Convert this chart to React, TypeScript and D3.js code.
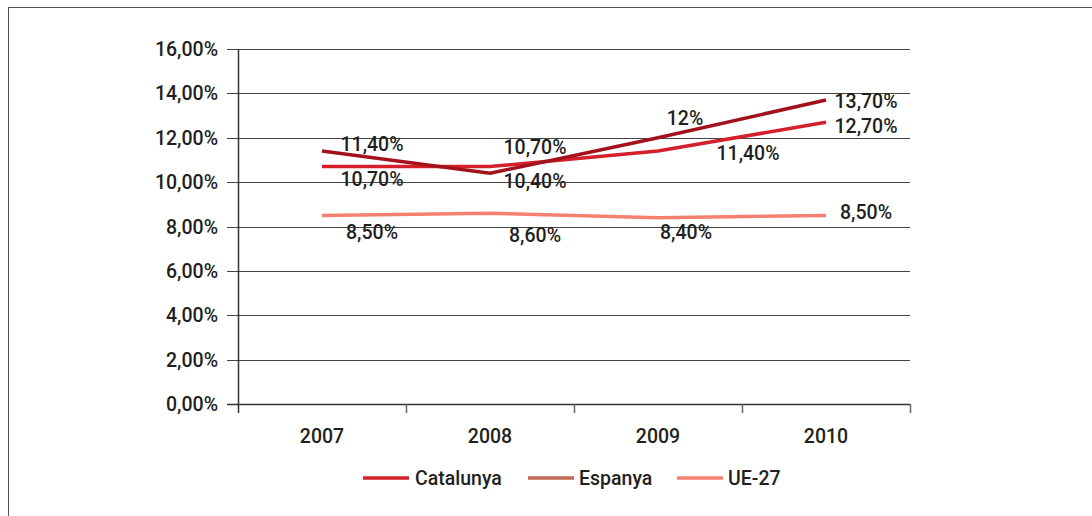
import React from "react";
import * as d3 from "d3";

const years = ["2007", "2008", "2009", "2010"];
const catalunya = [10.7, 10.7, 11.4, 12.7];
const espanya = [11.4, 10.4, 12.0, 13.7];
const ue27 = [8.5, 8.6, 8.4, 8.5];
const yTicks = [0, 2, 4, 6, 8, 10, 12, 14, 16];
const seriesNames = ["Catalunya", "Espanya", "UE-27"];

// label texts as shown in the chart
const catLabels = ["10,70%", "10,70%", "11,40%", "12,70%"];
const espLabels = ["11,40%", "10,40%", "12%", "13,70%"];
const ueLabels = ["8,50%", "8,60%", "8,40%", "8,50%"];

// label offsets [dx, dy] from each data point (layout)
const catOffsets = [[50, 12], [45, -20], [90, 2], [40, 4]];
const espOffsets = [[50, -7], [45, 8], [27, -20], [40, 1]];
const ueOffsets = [[50, 17], [45, 22], [28, 14], [40, -3]];

const W = 1092;
const H = 516;
const FONT = "Roboto, 'DejaVu Sans', sans-serif";
const FS = 19.5;
const FW = 500;

export default function App() {
  const x = d3.scaleBand<string>().domain(years).range([238, 910]);
  const y = d3.scaleLinear().domain([0, 16]).range([404, 49]);
  const cx = (d: string) => (x(d) as number) + x.bandwidth() / 2;
  const line = d3
    .line<number>()
    .x((_, i) => cx(years[i]))
    .y((v) => y(v));

  const series = [
    { name: seriesNames[0], values: catalunya, color: "#d3202b", legend: "#d3202b", labels: catLabels, offs: catOffsets },
    { name: seriesNames[1], values: espanya, color: "#a3121c", legend: "#c06b57", labels: espLabels, offs: espOffsets },
    { name: seriesNames[2], values: ue27, color: "#f5806f", legend: "#f5806f", labels: ueLabels, offs: ueOffsets },
  ];

  const fmt = (v: number) => v.toFixed(2).replace(".", ",") + "%";
  const boundaries = [...years.map((d) => x(d) as number), 910];

  const legendItems = [
    { sx: 363, tx: 415 },
    { sx: 528, tx: 579 },
    { sx: 677, tx: 728 },
  ];

  return (
    <svg
      width={W}
      height={H}
      style={{ position: "absolute", left: 0, top: 0, display: "block" }}
      fontFamily={FONT}
      fontWeight={FW}
    >
      <rect x={0} y={0} width={W} height={H} fill="#fff" />
      <rect x={8.5} y={7.5} width={1200} height={700} fill="none" stroke="#555" strokeWidth={1} />
      {/* grid */}
      {yTicks.map((t) => (
        <g key={t}>
          <line x1={227} x2={910} y1={Math.round(y(t)) + 0.5} y2={Math.round(y(t)) + 0.5} stroke={t === 0 ? "#333" : "#444"} strokeWidth={t === 0 ? 1.5 : 1} />
          <text x={218} y={y(t)} dy="0.36em" textAnchor="end" fontSize={FS} fill="#231f20">
            {fmt(t)}
          </text>
        </g>
      ))}
      <line x1={238.5} x2={238.5} y1={y(16)} y2={413} stroke="#333" strokeWidth={1.5} />
      {boundaries.slice(1).map((b, i) => (
        <line key={i} x1={b + 0.5} x2={b + 0.5} y1={404} y2={413} stroke="#666" strokeWidth={1.5} />
      ))}
      {years.map((yr) => (
        <text key={yr} x={cx(yr)} y={436} dy="0.36em" textAnchor="middle" fontSize={FS} fill="#231f20">
          {yr}
        </text>
      ))}
      {/* lines */}
      {series.map((s) => (
        <path key={s.name} d={line(s.values) as string} fill="none" stroke={s.color} strokeWidth={3.5} strokeLinejoin="miter" />
      ))}
      {/* labels */}
      {series.map((s) =>
        s.values.map((v, i) => (
          <text
            key={s.name + i}
            x={cx(years[i]) + s.offs[i][0]}
            y={y(v) + s.offs[i][1]}
            dy="0.36em"
            textAnchor="middle"
            fontSize={FS}
            fill="#231f20"
          >
            {s.labels[i]}
          </text>
        ))
      )}
      {/* legend */}
      {series.map((s, i) => (
        <g key={"lg" + s.name}>
          <line x1={legendItems[i].sx} x2={legendItems[i].sx + 46} y1={478} y2={478} stroke={s.legend} strokeWidth={3.5} />
          <text x={legendItems[i].tx} y={478} dy="0.36em" fontSize={FS} fill="#231f20">
            {s.name}
          </text>
        </g>
      ))}
    </svg>
  );
}
